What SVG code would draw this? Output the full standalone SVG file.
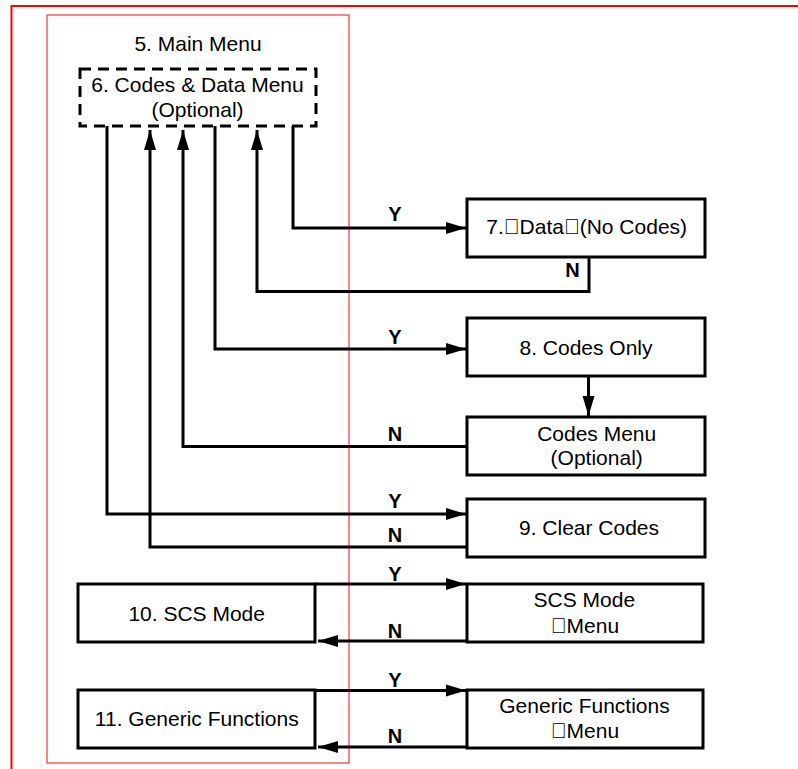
<svg xmlns="http://www.w3.org/2000/svg" width="798" height="769" viewBox="0 0 798 769">
<style>
.t{font-family:"Liberation Sans",Arial,sans-serif;font-size:21px;fill:#000;text-anchor:middle}
.l{font-family:"Liberation Sans",Arial,sans-serif;font-size:20px;font-weight:bold;fill:#000;text-anchor:middle}
.box{fill:#fff;stroke:#000;stroke-width:3}
.dash{fill:#fff;stroke:#000;stroke-width:3;stroke-dasharray:11 7}
.c{fill:none;stroke:#000;stroke-width:3}
.arr{marker-end:url(#ah)}
</style>
<defs>
<marker id="ah" markerUnits="userSpaceOnUse" markerWidth="21" markerHeight="13" refX="20" refY="6" orient="auto" overflow="visible">
<path d="M0,0 L20,6 L0,12 Z" fill="#000"/>
</marker>
</defs>
<rect width="798" height="769" fill="#fff"/>
<rect id="frame-outer" x="11.5" y="6" width="800" height="800" fill="none" stroke="#ff0000" stroke-width="2"/>
<rect id="frame-inner" x="47" y="15" width="302" height="748" fill="none" stroke="#f04848" stroke-width="1.3"/>

<g id="connectors">
<path class="c arr" d="M293,126 V228 H466"/>
<path class="c arr" d="M589,257 V291.5 H257 V130"/>
<path class="c arr" d="M215,126 V349 H466"/>
<path class="c arr" d="M467,446.5 H183 V130"/>
<path class="c arr" d="M107,126 V514 H466"/>
<path class="c arr" d="M467,547 H150 V130"/>
<path class="c arr" d="M588.5,376 V416"/>
<path class="c arr" d="M315,584 H466"/>
<path class="c arr" d="M467,641 H318"/>
<path class="c arr" d="M315,690.5 H466"/>
<path class="c arr" d="M467,747 H318"/>
<text class="l" x="395" y="221">Y</text>
<text class="l" x="572.5" y="277">N</text>
<text class="l" x="395" y="344">Y</text>
<text class="l" x="395" y="440.5">N</text>
<text class="l" x="395" y="508">Y</text>
<text class="l" x="395" y="541.5">N</text>
<text class="l" x="395" y="581">Y</text>
<text class="l" x="395" y="638">N</text>
<text class="l" x="395" y="687">Y</text>
<text class="l" x="395" y="743">N</text>
</g>

<g id="main-menu">
<text class="t" x="198" y="51">5. Main Menu</text>
</g>
<g id="codes-data-menu">
<rect class="dash" x="80" y="69" width="236" height="57"/>
<text class="t" x="197.5" y="91.5">6. Codes &amp; Data Menu</text>
<text class="t" x="197.5" y="116.5">(Optional)</text>
</g>
<g id="data-no-codes">
<rect class="box" x="467" y="199" width="238" height="58"/>
<text class="t" x="586.7" y="233.5">7.&#xF020;Data&#xF020;(No Codes)</text>
</g>
<g id="codes-only">
<rect class="box" x="467" y="318" width="238" height="58"/>
<text class="t" x="586" y="354.5">8. Codes Only</text>
</g>
<g id="codes-menu">
<rect class="box" x="467" y="417" width="238" height="58"/>
<text class="t" x="596.7" y="440.5">Codes Menu</text>
<text class="t" x="596.7" y="465">(Optional)</text>
</g>
<g id="clear-codes">
<rect class="box" x="467" y="499" width="238" height="58"/>
<text class="t" x="589" y="534.5">9. Clear Codes</text>
</g>
<g id="scs-mode">
<rect class="box" x="78" y="584" width="237" height="58"/>
<text class="t" x="196.7" y="620.7">10. SCS Mode</text>
</g>
<g id="scs-mode-menu">
<rect class="box" x="467" y="584" width="236" height="58"/>
<text class="t" x="584.3" y="607.3">SCS Mode</text>
<text class="t" x="585" y="632.7">&#xF020;Menu</text>
</g>
<g id="generic-functions">
<rect class="box" x="78" y="690" width="237" height="58"/>
<text class="t" x="196.8" y="725.7">11. Generic Functions</text>
</g>
<g id="generic-functions-menu">
<rect class="box" x="467" y="690" width="236" height="58"/>
<text class="t" x="584.5" y="713.3">Generic Functions</text>
<text class="t" x="585" y="738.3">&#xF020;Menu</text>
</g>
</svg>
